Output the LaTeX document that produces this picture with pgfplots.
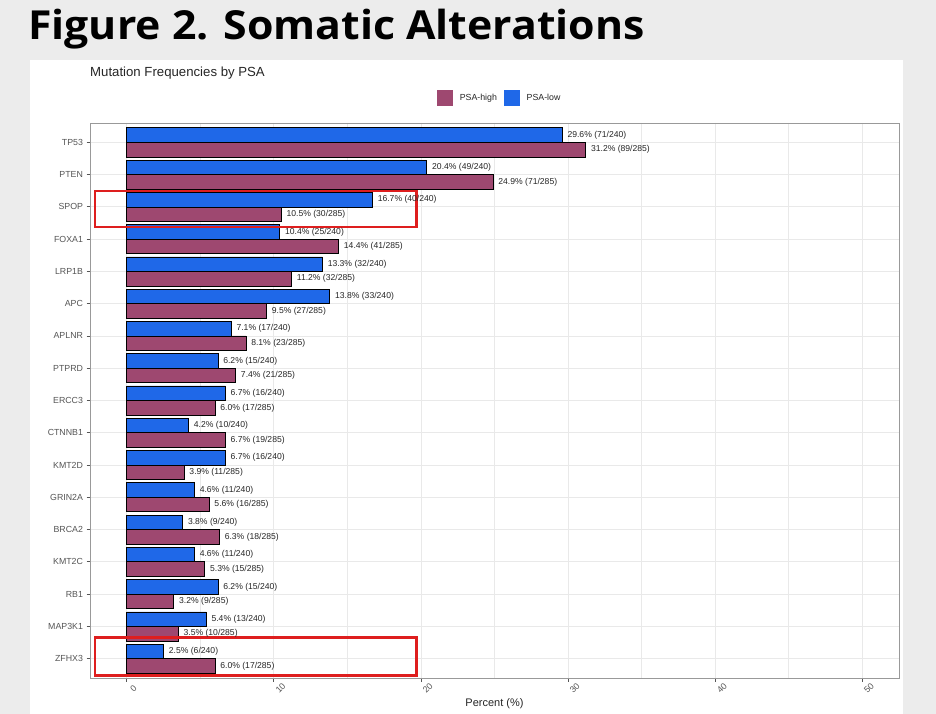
\documentclass[border=0pt]{standalone}
\usepackage{fontspec}
\setmainfont{Liberation Sans}
\newfontfamily\titlefont{Open Sans}
\usepackage{pgfplots}
\pgfplotsset{compat=1.18}
\usepackage{pgfplotstable}

\definecolor{psahigh}{RGB}{158,72,112}
\definecolor{psalow}{RGB}{31,104,232}
\definecolor{bggray}{RGB}{236,236,236}
\definecolor{gridc}{RGB}{233,233,233}
\definecolor{tickc}{RGB}{85,85,85}
\definecolor{boxred}{RGB}{222,30,30}

\pgfplotstableread[col sep=comma]{
y,val,lab
1,29.6,29.6\% (71/240)
2,20.4,20.4\% (49/240)
3,16.7,16.7\% (40/240)
4,10.4,10.4\% (25/240)
5,13.3,13.3\% (32/240)
6,13.8,13.8\% (33/240)
7,7.1,7.1\% (17/240)
8,6.2,6.2\% (15/240)
9,6.7,6.7\% (16/240)
10,4.2,4.2\% (10/240)
11,6.7,6.7\% (16/240)
12,4.6,4.6\% (11/240)
13,3.8,3.8\% (9/240)
14,4.6,4.6\% (11/240)
15,6.2,6.2\% (15/240)
16,5.4,5.4\% (13/240)
17,2.5,2.5\% (6/240)
}\lowtab

\pgfplotstableread[col sep=comma]{
y,val,lab
1,31.2,31.2\% (89/285)
2,24.9,24.9\% (71/285)
3,10.5,10.5\% (30/285)
4,14.4,14.4\% (41/285)
5,11.2,11.2\% (32/285)
6,9.5,9.5\% (27/285)
7,8.1,8.1\% (23/285)
8,7.4,7.4\% (21/285)
9,6.0,6.0\% (17/285)
10,6.7,6.7\% (19/285)
11,3.9,3.9\% (11/285)
12,5.6,5.6\% (16/285)
13,6.3,6.3\% (18/285)
14,5.3,5.3\% (15/285)
15,3.2,3.2\% (9/285)
16,3.5,3.5\% (10/285)
17,6.0,6.0\% (17/285)
}\hightab

\begin{document}
\begin{tikzpicture}[x=1pt,y=1pt]
\useasboundingbox (0,0) rectangle (936,714);
\fill[bggray] (0,0) rectangle (936,714);
\fill[white] (30,0) rectangle (903,654);
\node[anchor=base west, inner sep=0pt, xscale=1.07, font=\titlefont\bfseries\fontsize{40}{40}\selectfont] at (28,674) {Figure 2. Somatic Alterations};
\node[anchor=base west, inner sep=0pt, font=\fontsize{13.2}{15}\selectfont, text=black!85] at (90,637.3) {Mutation Frequencies by PSA};
\begin{axis}[
  at={(90pt,36pt)}, anchor=south west,
  scale only axis, width=809pt, height=555pt,
  clip=false,
  xmin=-2.5, xmax=52.5,
  ymin=0.4, ymax=17.6,
  y dir=reverse,
  xtick={0,10,20,30,40,50},
  minor xtick={5,15,25,35,45},
  ytick={1,...,17},
  yticklabels={TP53,PTEN,SPOP,FOXA1,LRP1B,APC,APLNR,PTPRD,ERCC3,CTNNB1,KMT2D,GRIN2A,BRCA2,KMT2C,RB1,MAP3K1,ZFHX3},
  xmajorgrids, xminorgrids, ymajorgrids,
  major grid style={gridc, line width=0.9pt},
  minor grid style={gridc, line width=0.6pt},
  axis line style={black!40, line width=0.9pt},
  tick align=outside,
  xtick pos=bottom, ytick pos=left,
  major tick length=3.5pt, minor tick length=0pt,
  tick style={tickc, line width=0.8pt},
  /pgf/number format/assume math mode=true,
  xticklabel style={font=\fontsize{8.8}{10}\selectfont, text=tickc, rotate=45, anchor=center, yshift=-9.5pt},
  yticklabel style={font=\fontsize{8.8}{10}\selectfont, text=tickc},
  xlabel={Percent (\%)},
  xlabel style={font=\fontsize{11}{12}\selectfont, text=black!85, at={(axis description cs:0.5,0)}, anchor=center, yshift=-26pt},
  legend columns=2,
  legend style={at={(axis description cs:0.429,1.045)}, anchor=west, draw=none, fill=none, inner sep=0pt, outer sep=0pt,
    font=\fontsize{8.8}{10}\selectfont, text=black!85, nodes={inner sep=0pt},
    /tikz/every even column/.append style={column sep=7pt}},
]
\addplot[xbar, fill=psahigh, draw=black, line width=0.7pt, bar width=0.45, bar shift=0.225,
  nodes near coords, point meta=explicit symbolic,
  every node near coord/.append style={anchor=west, inner sep=0pt, xshift=5pt, yshift=-7.3pt, font=\fontsize{8.6}{10}\selectfont, text=black!85},
  legend image code/.code={\fill[psahigh] (0pt,-7.5pt) rectangle (15pt,7.5pt); \path (22pt,0pt);}]
  table[x=val, y=y, meta=lab]{\hightab};
\addlegendentry{PSA-high}
\addplot[xbar, fill=psalow, draw=black, line width=0.7pt, bar width=0.45, bar shift=-0.225,
  nodes near coords, point meta=explicit symbolic,
  every node near coord/.append style={anchor=west, inner sep=0pt, xshift=5pt, yshift=7.3pt, font=\fontsize{8.6}{10}\selectfont, text=black!85},
  legend image code/.code={\fill[psalow] (0pt,-7.5pt) rectangle (15pt,7.5pt); \path (22pt,0pt);}]
  table[x=val, y=y, meta=lab]{\lowtab};
\addlegendentry{PSA-low}
\draw[boxred, line width=2.5pt] (axis cs:-2.17,2.51) rectangle (axis cs:19.69,3.62);
\draw[boxred, line width=2.5pt] (axis cs:-2.17,16.35) rectangle (axis cs:19.69,17.53);
\end{axis}
\end{tikzpicture}
\end{document}
